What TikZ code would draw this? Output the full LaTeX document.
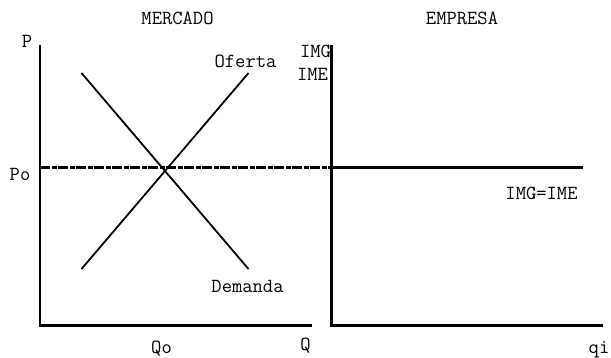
\documentclass[tikz,border=0pt]{standalone}
\usepackage{fontspec}
\begin{document}
\begin{tikzpicture}[x=1pt,y=-1pt,
  axis/.style={line width=2.4pt},
  curve/.style={line width=1.8pt},
  pline/.style={line width=2.2pt},
  pdash/.style={line width=2.2pt,dash pattern=on 10pt off 1.5pt on 5pt off 1.5pt},
  lbl/.style={anchor=base,inner sep=0pt,font=\ttfamily\fontsize{20}{23}\selectfont}]
\useasboundingbox (0,0) rectangle (611,358);
% left panel
\coordinate (Ltop) at (40,45);
\coordinate (Lorig) at (40,325.5);
\coordinate (Lend) at (312,325.5);
\draw[axis] (Ltop) -- (Lorig) -- (Lend);
% right panel
\coordinate (Rtop) at (331.5,45);
\coordinate (Rorig) at (331.5,325.5);
\coordinate (Rend) at (603,325.5);
\draw[axis] (Rtop) -- (Rorig) -- (Rend);
% price lines
\coordinate (Pstart) at (40,167.5);
\coordinate (Pmid) at (331.5,167.5);
\coordinate (Pend) at (583,167.5);
\draw[pdash] (Pstart) -- (Pmid);
\draw[pline] (Pmid) -- (Pend);
% demand and supply
\coordinate (Dtop) at (81.5,73);
\coordinate (Dbot) at (248.5,269);
\coordinate (Sbot) at (81.5,269);
\coordinate (Stop) at (248.5,73);
\draw[curve] (Dtop) -- (Dbot);
\draw[curve] (Sbot) -- (Stop);
% labels
\node[lbl] (mercado) at (177.5,25) {MERCADO};
\node[lbl] (empresa) at (462,25) {EMPRESA};
\node[lbl] (p) at (27,48) {P};
\node[lbl] (oferta) at (245.5,68) {Oferta};
\node[lbl] (img) at (315.5,58) {IMG};
\node[lbl] (ime) at (312.5,81) {IME};
\node[lbl] (po) at (20,181) {Po};
\node[lbl] (demanda) at (247.5,292.5) {Demanda};
\node[lbl] (qo) at (161.5,354) {Qo};
\node[lbl] (q) at (305.5,350) {Q};
\node[lbl] (imgime) at (541.5,200) {IMG=IME};
\node[lbl] (qi) at (599,353) {qi};
\end{tikzpicture}
\end{document}
